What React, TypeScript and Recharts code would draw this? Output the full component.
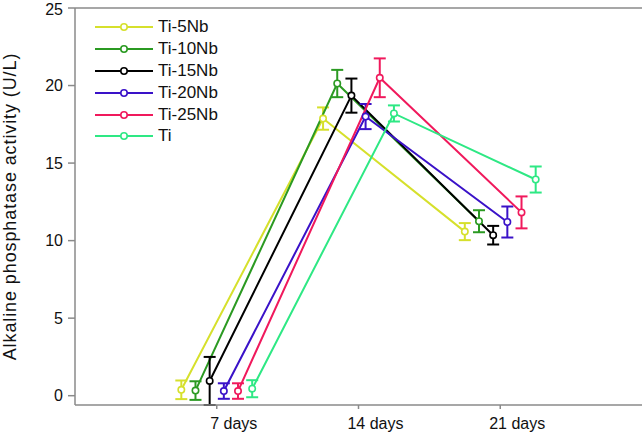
import React from 'react';
import { LineChart, Line, XAxis, YAxis, ErrorBar, ReferenceLine } from 'recharts';

// sampling days and tick labels
const dayLabels = ['7 days', '14 days', '21 days'];
const yTicks = [0, 5, 10, 15, 20, 25];

// mean activity per group (U/L)
const ti5Nb = [0.38, 17.87, 10.58];
const ti10Nb = [0.33, 20.13, 11.25];
const ti15Nb = [0.95, 19.35, 10.35];
const ti20Nb = [0.3, 18.0, 11.2];
const ti25Nb = [0.3, 20.5, 11.82];
const tiPure = [0.45, 18.2, 13.94];

// standard deviations
const ti5NbErr = [0.6, 0.72, 0.55];
const ti10NbErr = [0.6, 0.88, 0.71];
const ti15NbErr = [1.55, 1.1, 0.6];
const ti20NbErr = [0.5, 0.81, 1.0];
const ti25NbErr = [0.5, 1.25, 1.03];
const tiPureErr = [0.55, 0.52, 0.84];

const groups = [
  { name: 'Ti-5Nb', values: ti5Nb, errors: ti5NbErr, color: '#d6e02c' },
  { name: 'Ti-10Nb', values: ti10Nb, errors: ti10NbErr, color: '#2b9a22' },
  { name: 'Ti-15Nb', values: ti15Nb, errors: ti15NbErr, color: '#000000' },
  { name: 'Ti-20Nb', values: ti20Nb, errors: ti20NbErr, color: '#3a12c8' },
  { name: 'Ti-25Nb', values: ti25Nb, errors: ti25NbErr, color: '#f0195c' },
  { name: 'Ti', values: tiPure, errors: tiPureErr, color: '#2ee884' },
];

// groups are dodged sideways around each day so the error bars don't overlap
const dodge = 0.1;

const seriesData = groups.map((g, gi) =>
  g.values.map((v, i) => ({
    x: i + 1 + (gi - (groups.length - 1) / 2) * dodge,
    y: v,
    err: g.errors[i],
  }))
);

const font = '"Liberation Sans", Arial, sans-serif';
const axisColor = '#8a8a8a';

// legend sits inside the plot, drawn as a plain overlay
const LegendBox = () => (
  <div style={{ position: 'absolute', left: 95, top: 16, fontFamily: font, fontSize: 17, color: '#111' }}>
    {groups.map((g) => (
      <div key={g.name} style={{ display: 'flex', alignItems: 'center', height: 21.9 }}>
        <svg width={60} height={12} style={{ marginRight: 3 }}>
          <line x1={0} y1={6} x2={58} y2={6} stroke={g.color} strokeWidth={2} />
          <circle cx={29} cy={6} r={3.2} fill="#fff" stroke={g.color} strokeWidth={1.6} />
        </svg>
        <span>{g.name}</span>
      </div>
    ))}
  </div>
);

const App = () => {
  return (
    <div style={{ position: 'fixed', left: 0, top: 0, width: 644, height: 438, background: '#fff' }}>
      <LineChart width={644} height={438} margin={{ top: 8, right: 2, left: 0, bottom: 3 }}>
        <XAxis
          type="number"
          dataKey="x"
          domain={[0, 4]}
          ticks={[1, 2, 3]}
          tickFormatter={(v) => dayLabels[v - 1]}
          height={30}
          stroke={axisColor}
          strokeWidth={1.5}
          tickSize={4}
          tickMargin={9}
          tick={{ fill: '#111', fontSize: 16, fontFamily: font, dx: 17 }}
          allowDuplicatedCategory={false}
        />
        <YAxis
          type="number"
          domain={[0, 25]}
          ticks={yTicks}
          width={75}
          stroke={axisColor}
          strokeWidth={1.5}
          tickSize={7}
          tickMargin={5}
          tick={{ fill: '#111', fontSize: 16, fontFamily: font }}
          label={{
            value: 'Alkaline phosphatase activity (U/L)',
            angle: -90,
            position: 'insideLeft',
            dx: 5,
            style: { textAnchor: 'middle', fill: '#111', fontSize: 18, letterSpacing: 0.9, fontFamily: font },
          }}
        />
        <ReferenceLine y={25} stroke={axisColor} strokeWidth={1.5} />
        {groups.map((g, gi) => (
          <Line
            key={g.name}
            data={seriesData[gi]}
            dataKey="y"
            name={g.name}
            type="linear"
            stroke={g.color}
            strokeWidth={2}
            dot={{ r: 3.2, fill: '#fff', stroke: g.color, strokeWidth: 1.6 }}
            activeDot={false}
            isAnimationActive={false}
          >
            <ErrorBar dataKey="err" direction="y" width={6} stroke={g.color} strokeWidth={2} />
          </Line>
        ))}
      </LineChart>
      <LegendBox />
    </div>
  );
};

export default App;
